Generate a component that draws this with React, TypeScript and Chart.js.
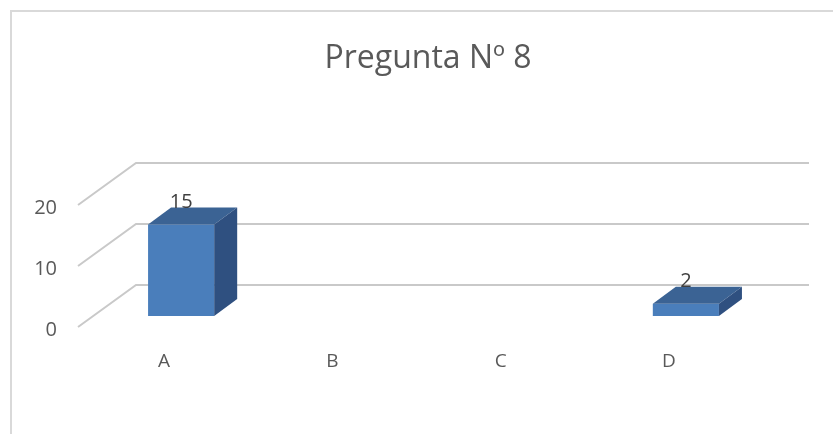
import React, { useEffect, useRef } from "react";
import { Chart, registerables } from "chart.js";

Chart.register(...registerables);

const titleText = "Pregunta Nº 8";
const categories = ["A", "B", "C", "D"];
const values = [15, 0, 0, 2];
const yTicks = [0, 10, 20];

const DX = 23;
const DY = -17;

const threeD = {
  id: "threeD",
  beforeDraw(chart: any) {
    const ctx = chart.ctx;
    ctx.save();
    ctx.strokeStyle = "#D9D9D9";
    ctx.lineWidth = 2;
    ctx.strokeRect(11, 11, 900, 600);
    ctx.fillStyle = "#595959";
    ctx.font = "32px 'Open Sans'";
    ctx.textAlign = "center";
    ctx.textBaseline = "middle";
    ctx.fillText(titleText, 428, 59);
    ctx.restore();
  },
  beforeDatasetsDraw(chart: any) {
    const ctx = chart.ctx;
    const ys = chart.scales.y;
    ctx.save();
    ctx.strokeStyle = "#C9C9C9";
    ctx.lineWidth = 2;
    yTicks.forEach((v) => {
      const py = ys.getPixelForValue(v);
      ctx.beginPath();
      ctx.moveTo(78, py + 11);
      ctx.lineTo(136, py - 31);
      ctx.lineTo(809, py - 31);
      ctx.stroke();
    });
    ctx.restore();
  },
  afterDatasetsDraw(chart: any) {
    const ctx = chart.ctx;
    const meta = chart.getDatasetMeta(0);
    ctx.save();
    meta.data.forEach((bar: any, i: number) => {
      if (!values[i]) return;
      const { x, y, base, width } = bar.getProps(["x", "y", "base", "width"], true);
      const l = x - width / 2;
      const r = x + width / 2;
      ctx.fillStyle = "#3B6394";
      ctx.beginPath();
      ctx.moveTo(l, y);
      ctx.lineTo(r, y);
      ctx.lineTo(r + DX, y + DY);
      ctx.lineTo(l + DX, y + DY);
      ctx.closePath();
      ctx.fill();
      ctx.fillStyle = "#2F5080";
      ctx.beginPath();
      ctx.moveTo(r, y);
      ctx.lineTo(r + DX, y + DY);
      ctx.lineTo(r + DX, base + DY);
      ctx.lineTo(r, base);
      ctx.closePath();
      ctx.fill();
      ctx.fillStyle = "#404040";
      ctx.font = "20px 'Open Sans'";
      ctx.textAlign = "center";
      ctx.textBaseline = "alphabetic";
      ctx.fillText(String(values[i]), x, y + DY);
    });
    ctx.restore();
  },
};

export default function App() {
  const ref = useRef<HTMLCanvasElement>(null);
  useEffect(() => {
    if (!ref.current) return;
    const chart = new Chart(ref.current, {
      type: "bar",
      data: {
        labels: categories,
        datasets: [
          {
            data: values,
            backgroundColor: "#4A7EBB",
            borderWidth: 0,
            categoryPercentage: 1,
            barPercentage: 0.393,
          },
        ],
      },
      options: {
        animation: false,
        responsive: false,
        maintainAspectRatio: false,
        layout: { padding: { left: 0, right: 63, top: 194, bottom: 0 } },
        plugins: {
          legend: { display: false },
          tooltip: { enabled: false },
          title: { display: false },
        },
        scales: {
          x: {
            grid: { display: false, drawTicks: false },
            border: { display: false },
            ticks: {
              color: "#595959",
              font: { family: "'Open Sans'", size: 19 },
              padding: 34,
              labelOffset: -17,
              maxRotation: 0,
            },
            afterFit(scale: any) {
              scale.height = 434 - 316;
            },
          },
          y: {
            min: 0,
            max: 20,
            grid: { display: false, drawTicks: false },
            border: { display: false },
            ticks: {
              stepSize: 10,
              color: "#595959",
              font: { family: "'Open Sans'", size: 20 },
              padding: 40,
              labelOffset: 14,
            },
            afterFit(scale: any) {
              scale.width = 97;
            },
          },
        },
      },
      plugins: [threeD],
    });
    return () => chart.destroy();
  }, []);
  return (
    <div style={{ position: "absolute", left: 0, top: 0, width: 833, height: 434, background: "#fff" }}>
      <canvas ref={ref} width={833} height={434} style={{ display: "block" }} />
    </div>
  );
}
